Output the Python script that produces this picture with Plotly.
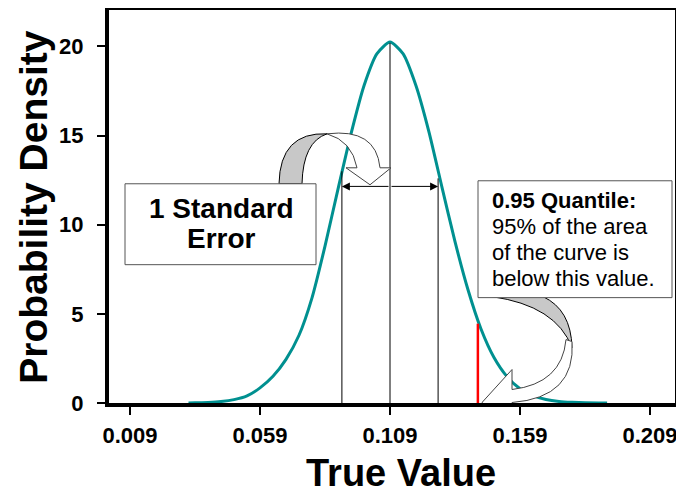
import plotly.graph_objects as go

# values
true_value = [0.0315, 0.034, 0.039, 0.044, 0.049, 0.054, 0.059, 0.064, 0.069, 0.074,
              0.079, 0.084, 0.089, 0.094, 0.099, 0.104, 0.109, 0.114, 0.119, 0.124,
              0.129, 0.134, 0.139, 0.144, 0.149, 0.154, 0.159, 0.164, 0.169, 0.174,
              0.179, 0.184, 0.1925]
density = [0.0, 0.01, 0.03, 0.08, 0.19, 0.40, 0.85, 1.50, 2.45, 3.80,
           5.90, 8.80, 12.00, 15.10, 17.80, 19.60, 20.25, 19.60, 17.80, 15.20,
           12.10, 9.05, 6.35, 4.15, 2.55, 1.48, 0.80, 0.41, 0.20, 0.09,
           0.04, 0.01, 0.0]

se_x = [0.0905, 0.109, 0.1275]
se_top = [13.0, 20.2, 12.6]
se_arrow_y = 12.15

quantile_x = 0.1428
quantile_top = 4.45

x_ticks = [0.009, 0.059, 0.109, 0.159, 0.209]
x_tick_labels = ["0.009", "0.059", "0.109", "0.159", "0.209"]
y_ticks = [0, 5, 10, 15, 20]

FONT = "Arial, Liberation Sans, sans-serif"
TEAL = "#009090"

# the page body has an 8px margin, so the figure starts at (8, 8) on screen
W, H = 676, 494
L, T, PW, PH = 101, 2, 566, 393.5


# screen pixel -> data / paper helpers, only for the decorative callouts
def dx(p):
    return 0.009 + (p - 130) / 2600


def dy(p):
    return (403.5 - p) / 17.85


def px(p):
    return (p - 8 - L) / PW


def py(p):
    return (T + PH - (p - 8)) / PH


fig = go.Figure()

fig.add_trace(go.Scatter(x=true_value, y=density, mode="lines",
                         line=dict(color=TEAL, width=3, shape="spline", smoothing=0.6),
                         cliponaxis=False, hoverinfo="skip"))

for xv, top in zip(se_x, se_top):
    fig.add_trace(go.Scatter(x=[xv, xv], y=[0, top], mode="lines",
                             line=dict(color="black", width=1), hoverinfo="skip"))

fig.add_trace(go.Scatter(x=[quantile_x, quantile_x], y=[0, quantile_top], mode="lines",
                         line=dict(color="#ff0000", width=2.5), hoverinfo="skip"))

shapes = []

# curved callout arrow 1 (grey back part, white front with head)
p = (f"M {dx(279)},{dy(184)} Q {dx(280)},{dy(132)} {dx(327)},{dy(134)} "
     f"Q {dx(303)},{dy(142)} {dx(302)},{dy(184)} Z")
shapes.append(dict(type="path", path=p, fillcolor="#c8c8c8",
                   line=dict(color="black", width=1)))
p = (f"M {dx(327)},{dy(134)} Q {dx(376)},{dy(128)} {dx(380)},{dy(168)} "
     f"L {dx(391)},{dy(168)} L {dx(370)},{dy(185)} L {dx(346)},{dy(168)} "
     f"L {dx(357)},{dy(168)} Q {dx(352)},{dy(141)} {dx(327)},{dy(134)} Z")
shapes.append(dict(type="path", path=p, fillcolor="white",
                   line=dict(color="#444444", width=1)))

# curved callout arrow 2
p = (f"M {dx(492)},{dy(297)} L {dx(543)},{dy(297)} Q {dx(571)},{dy(310)} {dx(572)},{dy(348)} "
     f"Q {dx(556)},{dy(306)} {dx(492)},{dy(297)} Z")
shapes.append(dict(type="path", path=p, fillcolor="#c8c8c8",
                   line=dict(color="black", width=1)))
p = (f"M {dx(572)},{dy(342)} Q {dx(576)},{dy(398)} {dx(512)},{dy(403)} "
     f"L {dx(512)},{dy(426)} L {dx(482)},{dy(403)} L {dx(512)},{dy(370)} "
     f"L {dx(512)},{dy(390)} Q {dx(562)},{dy(384)} {dx(566)},{dy(340)} Z")
shapes.append(dict(type="path", path=p, fillcolor="white",
                   line=dict(color="#444444", width=1)))

# text boxes
shapes.append(dict(type="rect", x0=dx(125), x1=dx(316), y0=dy(265), y1=dy(184),
                   fillcolor="white", line=dict(color="#555555", width=1)))
shapes.append(dict(type="rect", x0=dx(478), x1=dx(672), y0=dy(298), y1=dy(181),
                   fillcolor="white", line=dict(color="#555555", width=1)))

annotations = []
# double arrow for 1 standard error
for end in (se_x[0], se_x[2]):
    annotations.append(dict(x=end, y=se_arrow_y, ax=se_x[1], ay=se_arrow_y,
                            xref="x", yref="y", axref="x", ayref="y", text="",
                            showarrow=True, arrowhead=2, arrowsize=1.6,
                            arrowwidth=1, arrowcolor="black", standoff=0))

annotations.append(dict(x=dx(221), y=dy(209), text="<b>1 Standard</b>", showarrow=False,
                        font=dict(family=FONT, size=28, color="black")))
annotations.append(dict(x=dx(221), y=dy(239), text="<b>Error</b>", showarrow=False,
                        font=dict(family=FONT, size=28, color="black")))

box2_lines = ["<b>0.95 Quantile:</b>", "95% of the area", "of the curve is",
              "below this value."]
for i, t in enumerate(box2_lines):
    annotations.append(dict(x=dx(490), y=dy(201 + 26 * i), text=t, showarrow=False,
                            xanchor="left", font=dict(family=FONT, size=22, color="black")))

# axis titles
annotations.append(dict(x=px(401), y=py(474), xref="paper", yref="paper",
                        text="<b>True Value</b>", showarrow=False,
                        xanchor="center", yanchor="middle",
                        font=dict(family=FONT, size=38, color="black")))
annotations.append(dict(x=px(34), y=py(207), xref="paper", yref="paper",
                        text="<b>Probability Density</b>", showarrow=False, textangle=-90,
                        xanchor="center", yanchor="middle",
                        font=dict(family=FONT, size=39, color="black")))

fig.update_layout(
    width=W, height=H,
    margin=dict(l=L, r=W - L - PW, t=T, b=H - T - PH, autoexpand=False),
    plot_bgcolor="white", paper_bgcolor="white",
    showlegend=False,
    shapes=shapes,
    annotations=annotations,
    xaxis=dict(range=[dx(109), dx(675)], tickvals=x_ticks, ticktext=x_tick_labels,
               ticks="outside", ticklen=8, tickwidth=1.5, tickcolor="black",
               showgrid=False, zeroline=False, showline=True, linewidth=4,
               linecolor="black", mirror=True, automargin=False,
               ticklabelstandoff=2,
               tickfont=dict(family=FONT, size=22, color="black", weight="bold")),
    yaxis=dict(range=[0, dy(10)], tickvals=y_ticks,
               ticks="outside", ticklen=8, tickwidth=1.5, tickcolor="black",
               showgrid=False, zeroline=False, showline=True, linewidth=4,
               linecolor="black", mirror=True, automargin=False,
               ticklabelstandoff=9,
               tickfont=dict(family=FONT, size=22, color="black", weight="bold")),
)

fig.write_html("out.html")
